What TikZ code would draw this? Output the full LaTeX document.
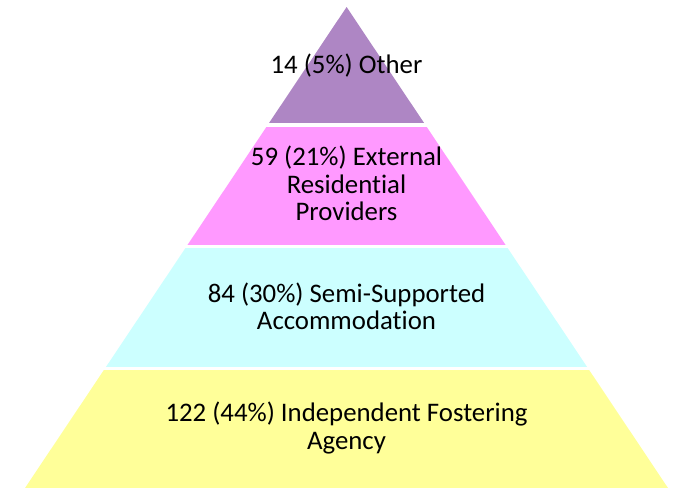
\documentclass[tikz,border=0pt]{standalone}
\usepackage{fontspec}
\setmainfont{Carlito}[Ligatures=NoCommon]
\definecolor{lvlpurple}{RGB}{174,134,196}
\definecolor{lvlpink}{RGB}{255,153,255}
\definecolor{lvlcyan}{RGB}{204,255,255}
\definecolor{lvlyellow}{RGB}{255,255,153}
\begin{document}
\begin{tikzpicture}[x=1pt,y=-1pt,
  lbl/.style={inner sep=0pt,align=center,anchor=base,font=\fontsize{26.8}{27.5}\selectfont,text=black}]
\useasboundingbox (0,0) rectangle (679,488);
\begin{scope}
\clip (346.6,7) -- (668,488) -- (25,488) -- cycle;
\fill[lvlpurple] (0,0) rectangle (679,122.7);
\fill[lvlpink] (0,126.5) rectangle (679,245.3);
\fill[lvlcyan] (0,247.8) rectangle (679,366.8);
\fill[lvlyellow] (0,369.5) rectangle (679,488);
\end{scope}
\node[lbl] (other) at (346.5,73) {14 (5\%) Other};
\node[lbl] (ext) at (346.5,220.8) {59 (21\%) External\\Residential\\Providers};
\node[lbl] (semi) at (346.5,329.6) {84 (30\%) Semi-Supported\\Accommodation};
\node[lbl] (ifa) at (346.5,449.3) {122 (44\%) Independent Fostering\\Agency};
\end{tikzpicture}
\end{document}
